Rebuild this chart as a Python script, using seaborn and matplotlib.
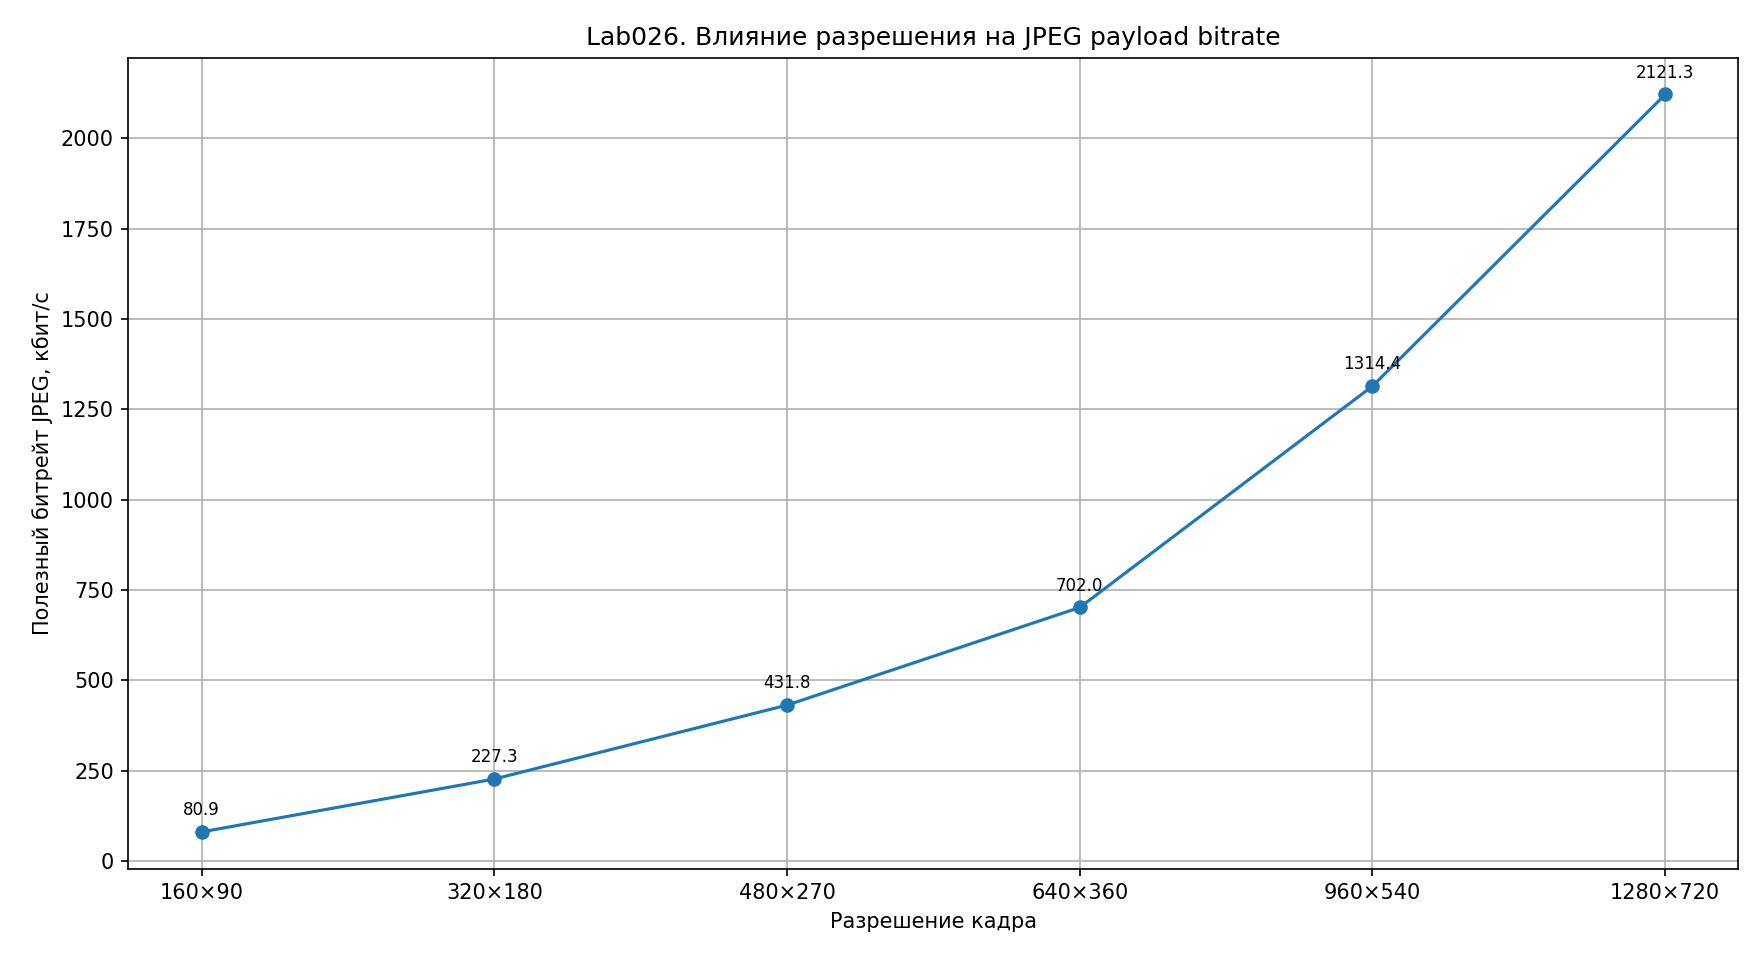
import matplotlib
matplotlib.use("Agg")
import matplotlib.pyplot as plt
import seaborn as sns
import pandas as pd

resolutions = ["160×90", "320×180", "480×270", "640×360", "960×540", "1280×720"]
bitrate = [80.9, 227.3, 431.8, 702.0, 1314.4, 2121.3]

df = pd.DataFrame({"res": resolutions, "bitrate": bitrate})

sns.set_style("ticks", rc={"text.color": "black", "axes.labelcolor": "black",
                           "xtick.color": "black", "ytick.color": "black",
                           "axes.edgecolor": "black"})
plt.rcParams['font.family'] = ['DejaVu Sans']

fig, ax = plt.subplots(figsize=(11.73, 6.4), dpi=150)
sns.lineplot(data=df, x="res", y="bitrate", marker="o", markersize=7,
             markeredgewidth=0, color="#1f77b4", linewidth=1.5, ax=ax, sort=False)
ax.grid(True, color="#b0b0b0", linewidth=0.8)
ax.set_axisbelow(True)
for i, v in enumerate(bitrate):
    ax.annotate(f"{v:.1f}", (i, v), textcoords="offset points", xytext=(0, 8),
                ha="center", fontsize=8, color="black")
ax.set_title("Lab026. Влияние разрешения на JPEG payload bitrate")
ax.set_xlabel("Разрешение кадра")
ax.set_ylabel("Полезный битрейт JPEG, кбит/с")
for s in ax.spines.values():
    s.set_visible(True)
    s.set_linewidth(0.8)
fig.tight_layout()
fig.subplots_adjust(left=0.073, right=0.988, top=0.94, bottom=0.095)
fig.savefig("out.png")
